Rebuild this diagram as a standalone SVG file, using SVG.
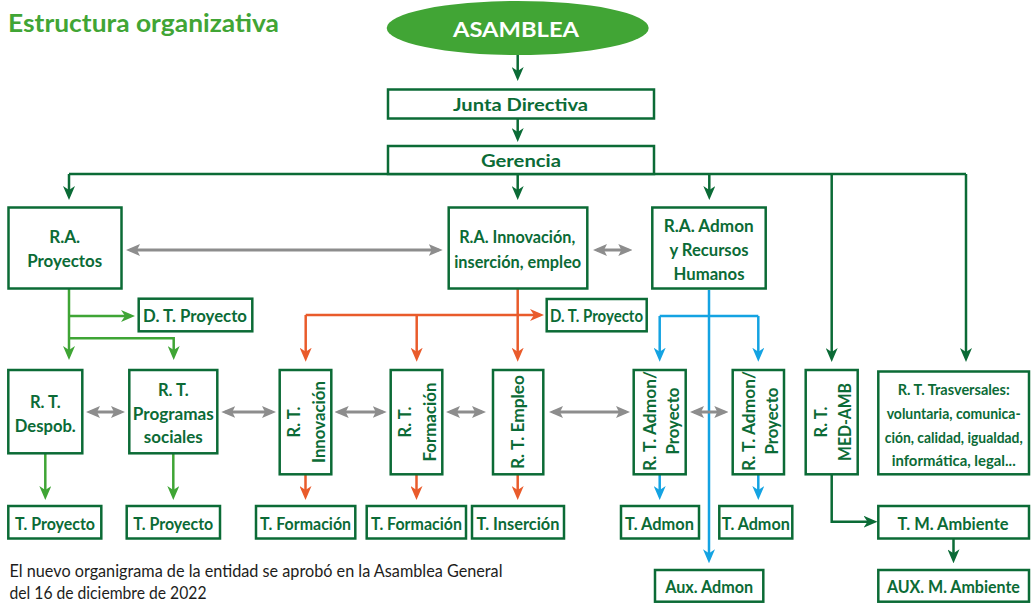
<svg xmlns="http://www.w3.org/2000/svg" width="1032" height="603" viewBox="0 0 1032 603">
<style>
.box{fill:#fff;stroke:#0b6b36;stroke-width:2.5}
.t{font-family:Lato,"Liberation Sans",sans-serif;font-weight:700;font-size:16.5px;fill:#0b6b36;text-anchor:middle}
.s{font-size:15px}
.dg{stroke:#0b6b36;stroke-width:2.5;fill:none}
.lg{stroke:#3fa535;stroke-width:2.5;fill:none}
.or{stroke:#e95b2b;stroke-width:2.5;fill:none}
.bl{stroke:#14a3e2;stroke-width:2.5;fill:none}
.gr{stroke:#8d8d8d;stroke-width:3;fill:none}
</style>
<defs>
<marker id="mdg" viewBox="0 0 14 12" refX="10" refY="6" markerWidth="14" markerHeight="12" markerUnits="userSpaceOnUse" orient="auto-start-reverse"><path d="M0,0L14,6L0,12L4,6z" fill="#0b6b36"/></marker>
<marker id="mlg" viewBox="0 0 14 12" refX="10" refY="6" markerWidth="14" markerHeight="12" markerUnits="userSpaceOnUse" orient="auto-start-reverse"><path d="M0,0L14,6L0,12L4,6z" fill="#3fa535"/></marker>
<marker id="mor" viewBox="0 0 14 12" refX="10" refY="6" markerWidth="14" markerHeight="12" markerUnits="userSpaceOnUse" orient="auto-start-reverse"><path d="M0,0L14,6L0,12L4,6z" fill="#e95b2b"/></marker>
<marker id="mbl" viewBox="0 0 14 12" refX="10" refY="6" markerWidth="14" markerHeight="12" markerUnits="userSpaceOnUse" orient="auto-start-reverse"><path d="M0,0L14,6L0,12L4,6z" fill="#14a3e2"/></marker>
<marker id="mgr" viewBox="0 0 14 12" refX="10" refY="6" markerWidth="14" markerHeight="12" markerUnits="userSpaceOnUse" orient="auto-start-reverse"><path d="M0,0L14,6L0,12L3,6z" fill="#8d8d8d"/></marker>
</defs>

<text x="8" y="32" style="font-family:Lato,'Liberation Sans',sans-serif;font-weight:700;font-size:24px;fill:#41a535" textLength="271" lengthAdjust="spacingAndGlyphs">Estructura organizativa</text>

<g id="connectors">
<g class="dg" marker-end="url(#mdg)">
<path d="M517.7,55V77"/>
<path d="M517.7,118.5V138"/>
<path d="M69,174V196"/>
<path d="M517.7,174V196"/>
<path d="M709.3,174V196"/>
<path d="M831.7,174V358"/>
<path d="M966,174V358"/>
<path d="M831.7,474.3V521.7H873.5"/>
<path d="M953.5,538.5V559.3"/>
</g>
<path class="dg" d="M69,174H966"/>
<g class="lg" marker-end="url(#mlg)">
<path d="M69,288.7V356"/>
<path d="M69,316H131"/>
<path d="M69,338.3H173.7V356"/>
<path d="M45.3,453.3V496"/>
<path d="M173.3,453.3V496"/>
</g>
<g class="or" marker-end="url(#mor)">
<path d="M517.7,288.3V357.7"/>
<path d="M305.7,315H540"/>
<path d="M305.7,315V357.7"/>
<path d="M416.7,315V357.7"/>
<path d="M305.5,474.3V496"/>
<path d="M416.5,474.3V496"/>
<path d="M517.7,474.3V496"/>
</g>
<g class="bl" marker-end="url(#mbl)">
<path d="M709,290V559.3"/>
<path d="M659.7,316V357.7"/>
<path d="M758.3,316V357.7"/>
<path d="M659.7,474.3V496"/>
<path d="M758.3,474.3V496"/>
</g>
<path class="bl" d="M659.7,316H758.3"/>
<g class="gr" marker-start="url(#mgr)" marker-end="url(#mgr)">
<path d="M130,250H438.7"/>
<path d="M597,250H628.3"/>
<path d="M90,412H121"/>
<path d="M225.3,412H272"/>
<path d="M338.7,412H382.7"/>
<path d="M450,412H482"/>
<path d="M553,412H626"/>
<path d="M694,412H724.3"/>
</g>
</g>

<g id="asamblea">
<ellipse cx="517.7" cy="28" rx="131" ry="27" fill="#41a535"/>
<text class="t" x="516" y="37" style="font-size:20.5px;fill:#fff" textLength="126" lengthAdjust="spacingAndGlyphs">ASAMBLEA</text>
</g>
<g id="junta">
<rect class="box" x="388" y="89.5" width="266" height="29"/>
<text class="t" x="520.5" y="111" textLength="135" lengthAdjust="spacingAndGlyphs">Junta Directiva</text>
</g>
<g id="gerencia">
<rect class="box" x="388" y="146" width="266" height="28"/>
<text class="t" x="521" y="167" textLength="80" lengthAdjust="spacingAndGlyphs">Gerencia</text>
</g>

<g id="ra-proyectos">
<rect class="box" x="8.5" y="207.5" width="113" height="81"/>
<text class="t" x="64.7" y="243" textLength="31" lengthAdjust="spacingAndGlyphs">R.A.</text>
<text class="t" x="64.7" y="267" textLength="75" lengthAdjust="spacingAndGlyphs">Proyectos</text>
</g>
<g id="ra-innovacion">
<rect class="box" x="448.7" y="207.5" width="138.6" height="81"/>
<text class="t" x="517.2" y="243" textLength="116" lengthAdjust="spacingAndGlyphs">R.A. Innovación,</text>
<text class="t" x="517.7" y="268" textLength="127" lengthAdjust="spacingAndGlyphs">inserción, empleo</text>
</g>
<g id="ra-admon">
<rect class="box" x="652.3" y="207.5" width="113.4" height="81"/>
<text class="t" x="708.7" y="232" textLength="90" lengthAdjust="spacingAndGlyphs">R.A. Admon</text>
<text class="t" x="709" y="256" textLength="79" lengthAdjust="spacingAndGlyphs">y Recursos</text>
<text class="t" x="709" y="280" textLength="71" lengthAdjust="spacingAndGlyphs">Humanos</text>
</g>
<g id="dt-proyecto-1">
<rect class="box" x="138.7" y="298.7" width="113.6" height="32.6"/>
<text class="t" x="195" y="321.5" textLength="104" lengthAdjust="spacingAndGlyphs">D. T. Proyecto</text>
</g>
<g id="dt-proyecto-2">
<rect class="box" x="546.7" y="299" width="100" height="32.3"/>
<text class="t" x="596.5" y="321.5" textLength="93" lengthAdjust="spacingAndGlyphs">D. T. Proyecto</text>
</g>

<g id="rt-despob">
<rect class="box" x="8.3" y="370" width="74" height="83.3"/>
<text class="t" x="45.3" y="408">R. T.</text>
<text class="t" x="45.3" y="432" textLength="61" lengthAdjust="spacingAndGlyphs">Despob.</text>
</g>
<g id="rt-programas">
<rect class="box" x="129.3" y="370" width="88" height="83.3"/>
<text class="t" x="173.3" y="396">R. T.</text>
<text class="t" x="173.3" y="419.5" textLength="81" lengthAdjust="spacingAndGlyphs">Programas</text>
<text class="t" x="173.3" y="443" textLength="59" lengthAdjust="spacingAndGlyphs">sociales</text>
</g>
<g id="rt-innovacion">
<rect class="box" x="279.7" y="370" width="51.6" height="104.3"/>
<text class="t" transform="translate(0 422) rotate(-90)"><tspan x="0" y="300">R. T.</tspan><tspan x="0" y="325" textLength="82" lengthAdjust="spacingAndGlyphs">Innovación</tspan></text>
</g>
<g id="rt-formacion">
<rect class="box" x="390.7" y="370" width="51.6" height="104.3"/>
<text class="t" transform="translate(0 422) rotate(-90)"><tspan x="0" y="411">R. T.</tspan><tspan x="0" y="436" textLength="79" lengthAdjust="spacingAndGlyphs">Formación</tspan></text>
</g>
<g id="rt-empleo">
<rect class="box" x="493" y="370" width="50.3" height="104.3"/>
<text class="t" transform="translate(0 422) rotate(-90)"><tspan x="0" y="524" textLength="94" lengthAdjust="spacingAndGlyphs">R. T. Empleo</tspan></text>
</g>
<g id="rt-admon-1">
<rect class="box" x="633.7" y="370" width="52" height="104.3"/>
<text class="t" transform="translate(0 421) rotate(-90)"><tspan x="0" y="656" textLength="100" lengthAdjust="spacingAndGlyphs">R. T. Admon/</tspan><tspan x="0" y="679" textLength="67" lengthAdjust="spacingAndGlyphs">Proyecto</tspan></text>
</g>
<g id="rt-admon-2">
<rect class="box" x="732.7" y="370" width="51.3" height="104.3"/>
<text class="t" transform="translate(0 421) rotate(-90)"><tspan x="0" y="755" textLength="100" lengthAdjust="spacingAndGlyphs">R. T. Admon/</tspan><tspan x="0" y="778" textLength="67" lengthAdjust="spacingAndGlyphs">Proyecto</tspan></text>
</g>
<g id="rt-medamb">
<rect class="box" x="805.7" y="370" width="52" height="104.3"/>
<text class="t" transform="translate(0 422) rotate(-90)"><tspan x="0" y="827">R. T.</tspan><tspan x="0" y="851" textLength="78" lengthAdjust="spacingAndGlyphs">MED-AMB</tspan></text>
</g>
<g id="rt-trasversales">
<rect class="box" x="878.3" y="371.5" width="150.7" height="102.8"/>
<text class="t s" x="953.7" y="395" textLength="112" lengthAdjust="spacingAndGlyphs">R. T. Trasversales:</text>
<text class="t s" x="953.7" y="419" textLength="134" lengthAdjust="spacingAndGlyphs">voluntaria, comunica-</text>
<text class="t s" x="953.7" y="442.5" textLength="138" lengthAdjust="spacingAndGlyphs">ción, calidad, igualdad,</text>
<text class="t s" x="953.7" y="466" textLength="124" lengthAdjust="spacingAndGlyphs">informática, legal...</text>
</g>

<g id="t-proyecto-1">
<rect class="box" x="8.3" y="506" width="93" height="32.5"/>
<text class="t" x="55" y="530" textLength="80" lengthAdjust="spacingAndGlyphs">T. Proyecto</text>
</g>
<g id="t-proyecto-2">
<rect class="box" x="126.7" y="506" width="93.3" height="32.5"/>
<text class="t" x="173.3" y="530" textLength="80" lengthAdjust="spacingAndGlyphs">T. Proyecto</text>
</g>
<g id="t-formacion-1">
<rect class="box" x="256" y="506" width="99.3" height="32.5"/>
<text class="t" x="305.6" y="530" textLength="91" lengthAdjust="spacingAndGlyphs">T. Formación</text>
</g>
<g id="t-formacion-2">
<rect class="box" x="366.7" y="506" width="99.3" height="32.5"/>
<text class="t" x="416.4" y="530" textLength="91" lengthAdjust="spacingAndGlyphs">T. Formación</text>
</g>
<g id="t-insercion">
<rect class="box" x="472" y="506" width="92" height="32.5"/>
<text class="t" x="518" y="530" textLength="83" lengthAdjust="spacingAndGlyphs">T. Inserción</text>
</g>
<g id="t-admon-1">
<rect class="box" x="621" y="506" width="78" height="32.5"/>
<text class="t" x="659.5" y="530" textLength="69" lengthAdjust="spacingAndGlyphs">T. Admon</text>
</g>
<g id="t-admon-2">
<rect class="box" x="719.3" y="506" width="73" height="32.5"/>
<text class="t" x="755.8" y="530" textLength="68" lengthAdjust="spacingAndGlyphs">T. Admon</text>
</g>
<g id="t-m-ambiente">
<rect class="box" x="878.3" y="506" width="150.7" height="32.5"/>
<text class="t" x="953" y="530" textLength="111" lengthAdjust="spacingAndGlyphs">T. M. Ambiente</text>
</g>
<g id="aux-admon">
<rect class="box" x="655" y="570" width="108.3" height="31.7"/>
<text class="t" x="709.2" y="593.3" textLength="88" lengthAdjust="spacingAndGlyphs">Aux. Admon</text>
</g>
<g id="aux-m-ambiente">
<rect class="box" x="878.3" y="570" width="150.7" height="31.7"/>
<text class="t" x="953.4" y="593.3" textLength="133" lengthAdjust="spacingAndGlyphs">AUX. M. Ambiente</text>
</g>

<g id="nota" style="font-family:Lato,'Liberation Sans',sans-serif;font-size:17px;fill:#1d1d1b">
<text x="9.5" y="577" textLength="493" lengthAdjust="spacingAndGlyphs">El nuevo organigrama de la entidad se aprobó en la Asamblea General</text>
<text x="9.5" y="599" textLength="197" lengthAdjust="spacingAndGlyphs">del 16 de diciembre de 2022</text>
</g>
</svg>
